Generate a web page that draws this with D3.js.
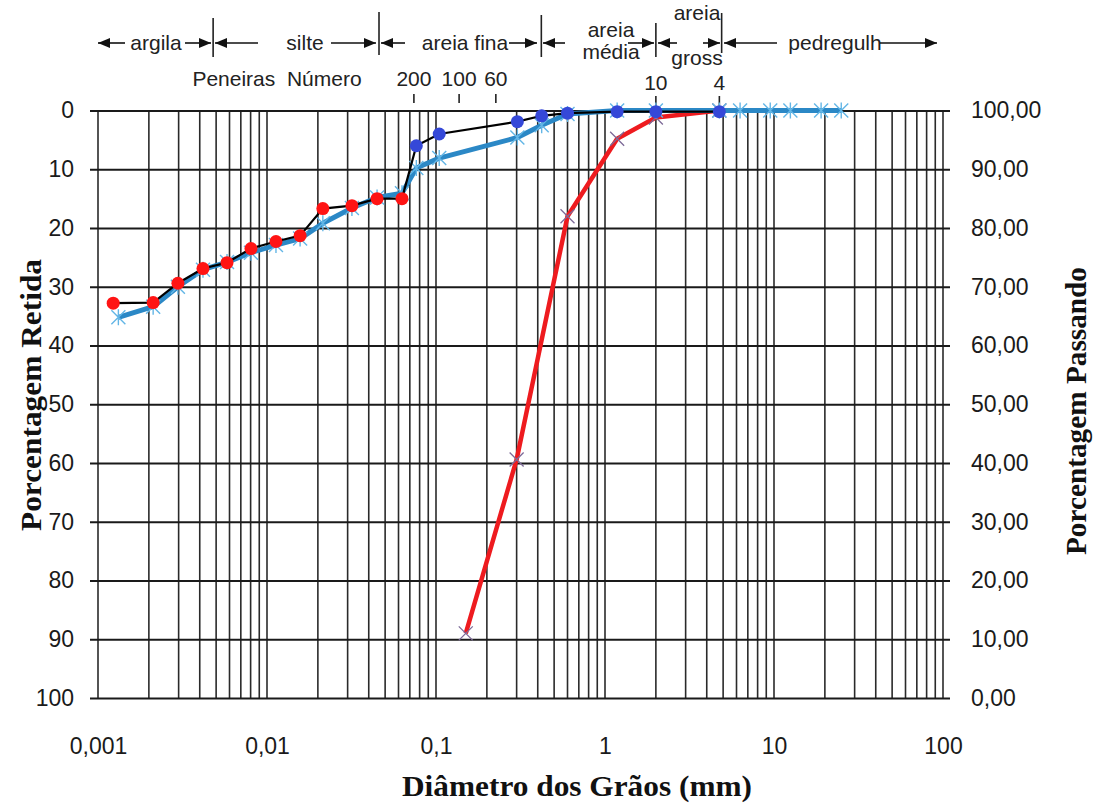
<!DOCTYPE html>
<html><head><meta charset="utf-8">
<script src="https://cdn.jsdelivr.net/npm/d3@7"></script>
<style>body{margin:0;background:#fff}svg{display:block}</style>
</head><body>
<svg id="c" width="1094" height="803"></svg>
<script>
// ---------------- data ----------------
const sedDiameters  = [0.00123,0.00212,0.00297,0.00418,0.0058,0.00804,0.0113,0.0157,0.0214,0.0318,0.0448,0.0629];
const sedRetained   = [32.8,32.7,29.4,26.9,25.9,23.5,22.3,21.3,16.7,16.2,15.0,15.0];
const sieveDiameters = [0.0765,0.1045,0.303,0.422,0.60,1.18,2.0,4.75];
const sieveRetained  = [6.0,4.0,1.9,0.9,0.45,0.2,0.2,0.2];
const curve2Diameters = [0.00132,0.00212,0.00297,0.00418,0.0058,0.00804,0.0113,0.0157,0.0214,0.0318,0.0448,0.0629,0.0765,0.1045,0.303,0.422,0.60,1.18,2.0,4.75,6.3,9.5,12.5,19,25];
const curve2Values    = [35.2,33.4,30.0,27.1,25.8,24.2,22.9,21.8,19.2,16.6,14.8,14.1,9.8,8.1,4.6,2.5,0.6,0,0,0,0,0,0,0,0];
const curve3Diameters = [0.15,0.30,0.60,1.18,2.0,4.75];
const curve3Values    = [89.0,59.4,18.0,4.8,1.2,0];
const xTickValues = [0.001,0.01,0.1,1,10,100];
const xTickLabels = ["0,001","0,01","0,1","1","10","100"];
const yTickValues = [0,10,20,30,40,50,60,70,80,90,100];
const sieveNumbers  = ["200","100","60","10","4"];
const sieveOpenings = [0.074,0.137,0.226,2.0,4.75];
const zoneNames  = [["argila"],["silte"],["areia fina"],["areia","média"],["areia","gross"],["pedregulh"]];
const zoneBounds = [0.001,0.0048,0.046,0.42,2.0,4.9,100];
const xTitle = "Diâmetro dos Grãos (mm)";
const yLeftTitle = "Porcentagem Retida";
const yRightTitle = "Porcentagem Passando";

// ---------------- layout ----------------
const L = 98, R = 943, T = 110.5, B = 698;
const svg = d3.select("#c");
const x = d3.scaleLog().domain([0.001,100]).range([L,R]);
const y = d3.scaleLinear().domain([0,100]).range([T,B]);
const yR = d3.scaleLinear().domain([100,0]).range([T,B]);
const ptBR = d3.formatLocale({decimal:",",thousands:".",grouping:[3],currency:["R$",""]});
const fmtR = ptBR.format(".2f");
const sans = "'Liberation Sans', Arial, sans-serif";
const serif = "'Liberation Serif', 'Times New Roman', serif";

// vertical log grid
const vGrid = [];
for (let k=-3;k<=1;k++) for (let m=1;m<=9;m++) vGrid.push(m*Math.pow(10,k));
vGrid.push(100);
svg.append("g").selectAll("line").data(vGrid).join("line")
  .attr("x1",d=>x(d)).attr("x2",d=>x(d)).attr("y1",T).attr("y2",B)
  .attr("stroke","#2a2a2a").attr("stroke-width",1.6);

// horizontal grid via axis (ticks extend both sides)
const gLeft = svg.append("g").attr("transform",`translate(${L},0)`)
  .call(d3.axisLeft(y).tickValues(yTickValues).tickSizeInner(-(R-L)-7).tickSizeOuter(0).tickPadding(24).tickFormat(d3.format("d")));
gLeft.select(".domain").remove();
gLeft.selectAll(".tick line").attr("x1",-8).attr("stroke","#1a1a1a").attr("stroke-width",1.8);
gLeft.selectAll(".tick text").attr("font-family",sans).attr("font-size",23).attr("fill","#1a1a1a");

const gRight = svg.append("g").attr("transform",`translate(${R},0)`)
  .call(d3.axisRight(yR).tickValues(yTickValues).tickSize(0).tickPadding(28).tickFormat(fmtR));
gRight.select(".domain").remove();
gRight.selectAll(".tick text").attr("font-family",sans).attr("font-size",23).attr("fill","#1a1a1a");

const gBottom = svg.append("g").attr("transform",`translate(0,${B})`)
  .call(d3.axisBottom(x).tickValues(xTickValues).tickSize(0).tickPadding(40).tickFormat((d,i)=>xTickLabels[i]));
gBottom.select(".domain").remove();
gBottom.selectAll(".tick text").attr("font-family",sans).attr("font-size",23).attr("fill","#1a1a1a");

// titles
svg.append("text").text(xTitle).attr("x",577).attr("y",796).attr("text-anchor","middle")
  .attr("font-family",serif).attr("font-weight","bold").attr("font-size",30)
  .attr("textLength",350).attr("lengthAdjust","spacingAndGlyphs").attr("fill","#111");
svg.append("text").text(yLeftTitle).attr("transform","translate(30,395) rotate(-90)").attr("dy","0.35em")
  .attr("text-anchor","middle").attr("font-family",serif).attr("font-weight","bold").attr("font-size",30)
  .attr("textLength",272).attr("lengthAdjust","spacingAndGlyphs").attr("fill","#111");
svg.append("text").text(yRightTitle).attr("transform","translate(1075,411) rotate(-90)").attr("dy","0.35em")
  .attr("text-anchor","middle").attr("font-family",serif).attr("font-weight","bold").attr("font-size",30)
  .attr("textLength",288).attr("lengthAdjust","spacingAndGlyphs").attr("fill","#111");

// ---------------- header: soil zones ----------------
const hdr = svg.append("g").attr("font-family",sans).attr("fill","#222");
function arrow(x1,x2,yy,headAtEnd){
  hdr.append("line").attr("x1",x1).attr("x2",x2).attr("y1",yy).attr("y2",yy).attr("stroke","#111").attr("stroke-width",1.6);
  const tip = headAtEnd ? x2 : x1, dir = headAtEnd ? -1 : 1;
  hdr.append("path").attr("d",`M${tip},${yy} L${tip+dir*12},${yy-5} L${tip+dir*12},${yy+5} Z`).attr("fill","#111");
}
// separators between zones
zoneBounds.slice(1,-1).forEach((b,i)=>{
  const ext = [[18,57],[12,55],[15,57],[23,57],[13,53]][i];
  hdr.append("line").attr("x1",x(b)).attr("x2",x(b)).attr("y1",ext[0]).attr("y2",ext[1]).attr("stroke","#222").attr("stroke-width",1.6);
});
// per-zone label placement (pixel layout)
const zoneLayout = [
  {tx:156, ty:[43], la:[98,125], ra:[185,211]},
  {tx:305, ty:[43], la:[215,258], ra:[331,376]},
  {tx:465, ty:[43], la:[381,405], ra:[509,537]},
  {tx:611, ty:[30,52], la:[543,565], ra:[628,654]},
  {tx:697, ty:[13,58], la:[658,677], ra:[703,720]},
  {tx:835, ty:[43], la:[724,777], ra:[880,937]}
];
zoneNames.forEach((lines,i)=>{
  const lay = zoneLayout[i];
  lines.forEach((t,j)=>{
    hdr.append("text").text(t).attr("x",lay.tx).attr("y",lay.ty[j]).attr("dy","0.35em")
      .attr("text-anchor","middle").attr("font-size",21);
  });
  arrow(lay.la[0],lay.la[1],43,false);
  arrow(lay.ra[0],lay.ra[1],43,true);
});
hdr.append("text").text("Peneiras  Número").attr("x",277).attr("y",79).attr("dy","0.35em")
  .attr("text-anchor","middle").attr("font-size",21).attr("xml:space","preserve");
sieveNumbers.forEach((s,i)=>{
  const big = i>=3;
  hdr.append("text").text(s).attr("x",x(sieveOpenings[i])).attr("y",big?83:79).attr("dy","0.35em")
    .attr("text-anchor","middle").attr("font-size",21);
  hdr.append("line").attr("x1",x(sieveOpenings[i])).attr("x2",x(sieveOpenings[i]))
    .attr("y1",big?96:94).attr("y2",big?T:103).attr("stroke","#222").attr("stroke-width",1.6);
});

// ---------------- series ----------------
const line = d3.line().x(d=>x(d[0])).y(d=>y(d[1]));
const s3 = d3.zip(curve3Diameters,curve3Values);
const s2 = d3.zip(curve2Diameters,curve2Values);
const s1 = d3.zip(sedDiameters.concat(sieveDiameters), sedRetained.concat(sieveRetained));

// red curve
svg.append("path").datum(s3).attr("d",line).attr("fill","none").attr("stroke","#ee1b1f").attr("stroke-width",4.5).attr("stroke-linejoin","round");
svg.append("g").selectAll("path").data(s3).join("path")
  .attr("transform",d=>`translate(${x(d[0])},${y(d[1])})`)
  .attr("d","M-7,-7L7,7M-7,7L7,-7").attr("stroke","#7d6a98").attr("stroke-width",1.3);

// light blue curve
svg.append("path").datum(s2).attr("d",line).attr("fill","none").attr("stroke","#2b88c6").attr("stroke-width",5).attr("stroke-linejoin","round");
svg.append("g").selectAll("path").data(s2).join("path")
  .attr("transform",d=>`translate(${x(d[0])},${y(d[1])})`)
  .attr("d","M-7,-7L7,7M-7,7L7,-7M0,-8L0,8").attr("stroke","#63b6e6").attr("stroke-width",1.4);

// black curve with markers
svg.append("path").datum(s1).attr("d",line).attr("fill","none").attr("stroke","#000").attr("stroke-width",2.2);
svg.append("g").selectAll("circle").data(d3.zip(sedDiameters,sedRetained)).join("circle")
  .attr("cx",d=>x(d[0])).attr("cy",d=>y(d[1])).attr("r",6.5).attr("fill","#ff1414");
svg.append("g").selectAll("circle").data(d3.zip(sieveDiameters,sieveRetained)).join("circle")
  .attr("cx",d=>x(d[0])).attr("cy",d=>y(d[1])).attr("r",6.5).attr("fill","#3548d8");
</script>
</body></html>
